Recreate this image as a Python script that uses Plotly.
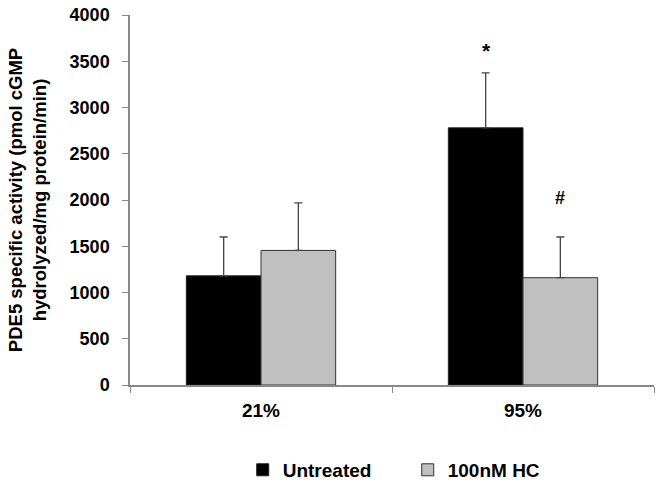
import plotly.graph_objects as go

groups = ["21%", "95%"]
untreated = [1180, 2780]
untreated_err = [420, 595]
hc = [1455, 1160]
hc_err = [515, 440]
marks = ["*", "#"]
mark_y = [3620, 2020]

font = "Liberation Sans, Arial, sans-serif"

fig = go.Figure()
fig.add_trace(go.Bar(
    x=groups, y=untreated, name="Untreated",
    marker=dict(color="black", line=dict(color="#222222", width=1)),
    error_y=dict(type="data", symmetric=False, array=untreated_err,
                 arrayminus=[0, 0], color="#444444", thickness=1.3, width=4),
))
fig.add_trace(go.Bar(
    x=groups, y=hc, name="100nM HC",
    marker=dict(color="#c0c0c0", line=dict(color="#333333", width=1)),
    error_y=dict(type="data", symmetric=False, array=hc_err,
                 arrayminus=[0, 0], color="#444444", thickness=1.3, width=4),
))

# significance marks above the 95% bars
fig.add_annotation(x="95%", y=mark_y[0], text=marks[0], xshift=-37, showarrow=False,
                   font=dict(size=21, color="black", weight="bold"))
fig.add_annotation(x="95%", y=mark_y[1], text=marks[1], xshift=37, showarrow=False,
                   font=dict(size=18, color="black", weight="bold"))

fig.update_layout(
    width=660, height=488,
    margin=dict(l=130, r=6, t=15, b=103, autoexpand=False),
    plot_bgcolor="white", paper_bgcolor="white",
    barmode="group", bargap=0.43, bargroupgap=0,
    font=dict(family=font, size=18, color="black", weight="bold"),
    showlegend=True,
    legend=dict(orientation="h", x=0.53, xanchor="center",
                yref="container", y=0.037, yanchor="middle",
                font=dict(size=19, color="black", weight="bold"), entrywidth=120,
                itemwidth=30, traceorder="normal"),
    xaxis=dict(showline=True, linecolor="#888888", linewidth=1.5, automargin=False,
               ticks="outside", tickson="boundaries", ticklen=6, tickcolor="#888888",
               ticklabelstandoff=7,
               tickfont=dict(size=19, family=font, weight="bold")),
    yaxis=dict(range=[0, 4000], dtick=500, showgrid=False, zeroline=False,
               showline=True, linecolor="#888888", linewidth=1.5, automargin=False,
               ticks="outside", ticklen=6, tickcolor="#888888",
               tickfont=dict(size=18, family=font, weight="bold"),
               ticklabelstandoff=9,
               title=dict(text="PDE5 specific activity (pmol cGMP<br>hydrolyzed/mg protein/min)",
                          font=dict(size=18.5, family=font, weight="bold"), standoff=18)),
)

# drop the default 8px page margin so the figure sits at the window's corner
fig.write_html("out.html", config={"displayModeBar": False},
               post_script="document.body.style.margin='0';")
